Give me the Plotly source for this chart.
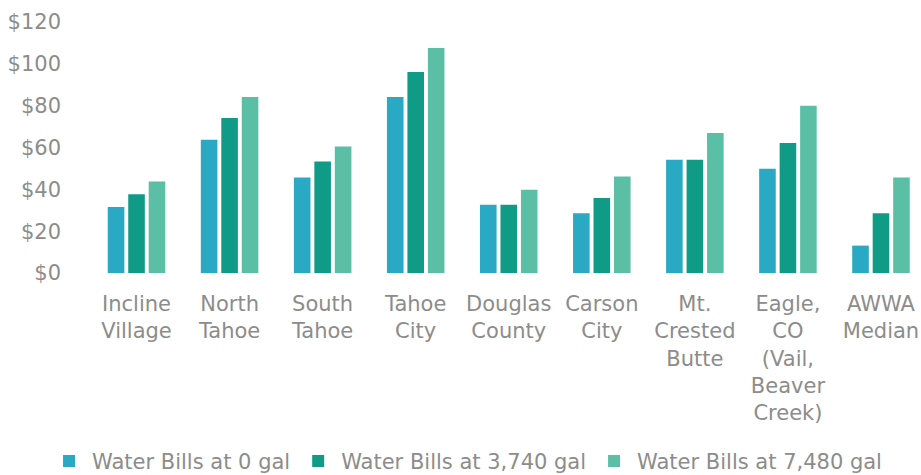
import plotly.graph_objects as go

categories = ["Incline<br>Village", "North<br>Tahoe", "South<br>Tahoe", "Tahoe<br>City",
              "Douglas<br>County", "Carson<br>City", "Mt.<br>Crested<br>Butte",
              "Eagle,<br>CO<br>(Vail,<br>Beaver<br>Creek)", "AWWA<br>Median"]
bills_0 = [31.5, 63.7, 45.7, 84.2, 32.6, 28.6, 54.1, 49.8, 13.1]
bills_3740 = [37.7, 74.1, 53.3, 96.1, 32.6, 35.8, 54.1, 62.1, 28.6]
bills_7480 = [43.7, 84.2, 60.5, 107.6, 39.8, 46.1, 66.9, 80.0, 45.7]
series_names = ["Water Bills at 0 gal", "Water Bills at 3,740 gal", "Water Bills at 7,480 gal"]
colors = ["#29a9c3", "#109b87", "#5bbfa5"]

fig = go.Figure()
for name, vals, col in zip(series_names, [bills_0, bills_3740, bills_7480], colors):
    fig.add_trace(go.Bar(x=categories, y=vals, name=name, marker=dict(color=col, line=dict(width=0))))

font_family = "DejaVu Sans, Liberation Sans, Arial, sans-serif"
text_color = "#8c8c8c"
fig.update_layout(
    width=921, height=475,
    margin=dict(l=90, r=0, t=22, b=202, autoexpand=False),
    paper_bgcolor="white", plot_bgcolor="white",
    barmode="group", bargap=0.34, bargroupgap=0.19,
    font=dict(family=font_family, color=text_color, size=21),
    showlegend=True,
    legend=dict(orientation="h", x=-0.0529, xanchor="left", y=-0.75, yanchor="middle",
                font=dict(size=21, color=text_color), itemwidth=36, traceorder="normal"),
    xaxis=dict(range=[-0.5, 8.43], showgrid=False, zeroline=False, showline=False,
               tickfont=dict(size=21, color=text_color), ticks="", ticklabelstandoff=16),
    yaxis=dict(range=[0, 120], dtick=20, tickprefix="$", showgrid=False, zeroline=False,
               showline=False, tickfont=dict(size=21, color=text_color), ticks="", ticklabelstandoff=28),
)
fig.write_html("out.html")
